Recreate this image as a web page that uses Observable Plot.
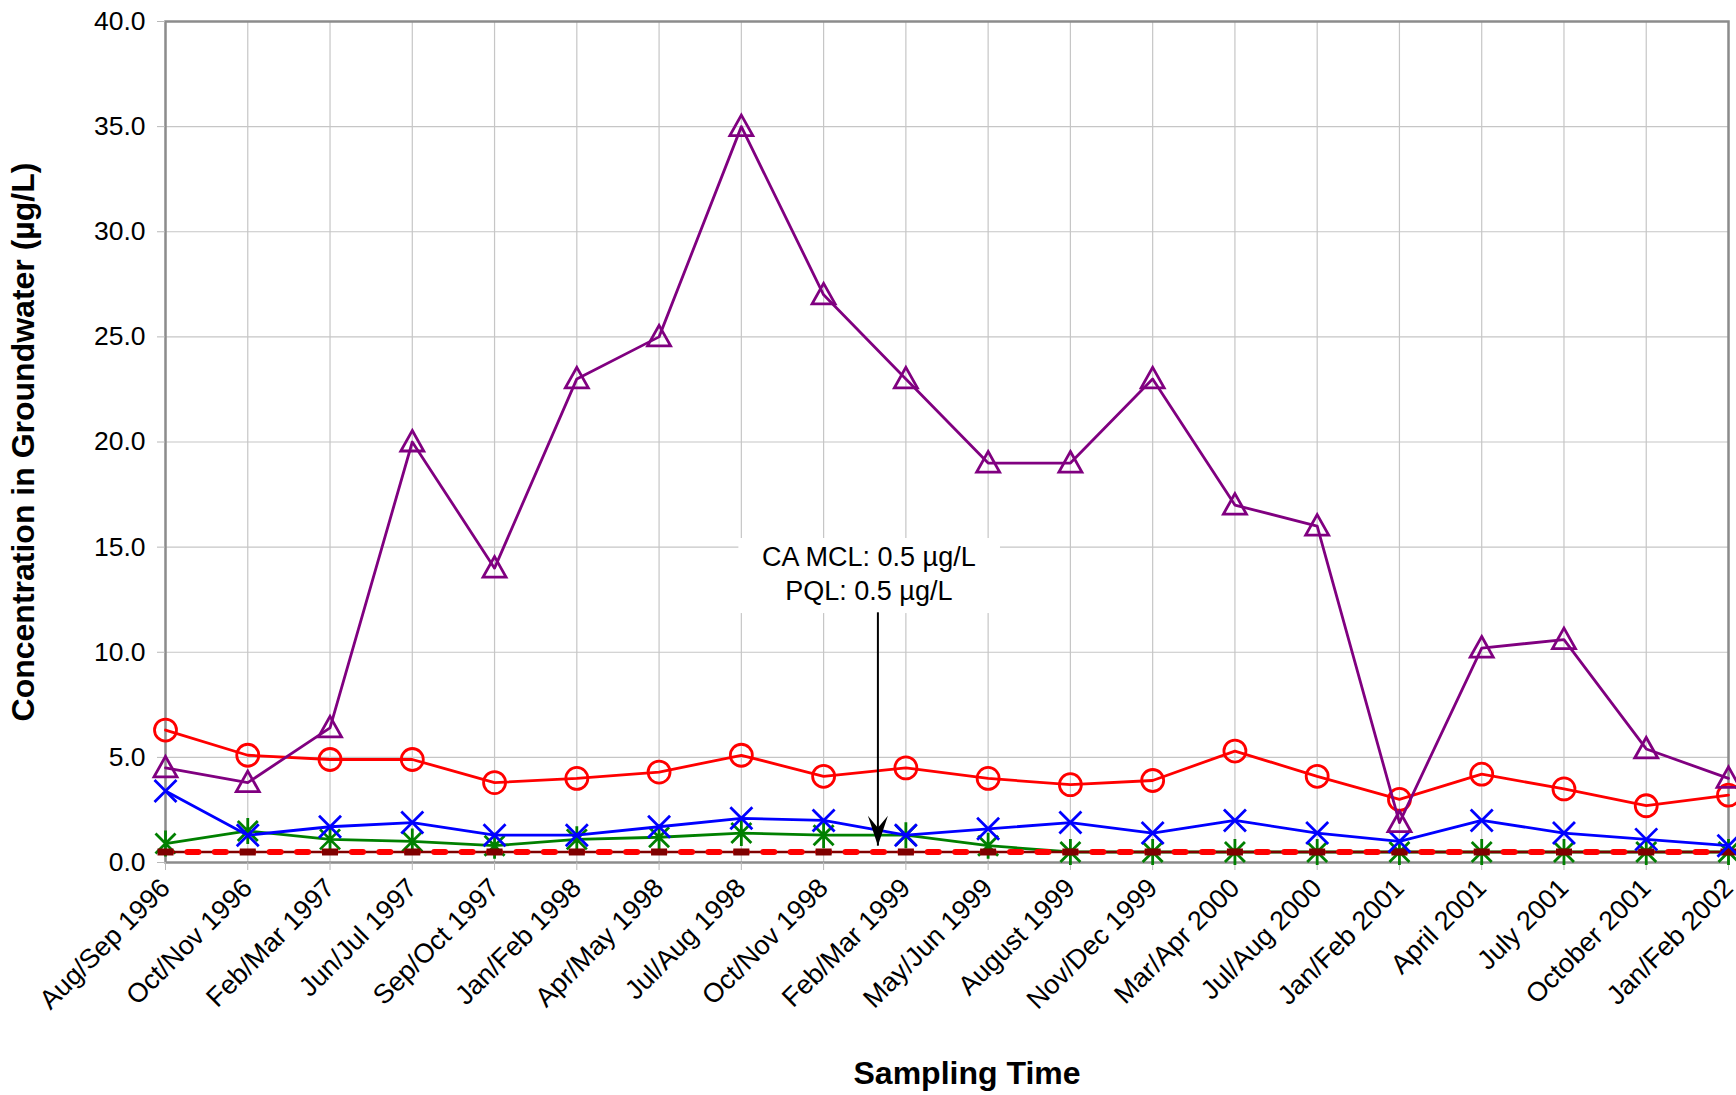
<!DOCTYPE html>
<html>
<head>
<meta charset="utf-8">
<script src="https://cdn.jsdelivr.net/npm/d3@7"></script>
<script src="https://cdn.jsdelivr.net/npm/@observablehq/plot@0.6"></script>
<style>
  html, body { margin: 0; padding: 0; background: #ffffff; }
</style>
</head>
<body>
<div id="chart"></div>
<script>
// ---- Data ----
const periods = [
  "Aug/Sep 1996", "Oct/Nov 1996", "Feb/Mar 1997", "Jun/Jul 1997", "Sep/Oct 1997",
  "Jan/Feb 1998", "Apr/May 1998", "Jul/Aug 1998", "Oct/Nov 1998", "Feb/Mar 1999",
  "May/Jun 1999", "August 1999", "Nov/Dec 1999", "Mar/Apr 2000", "Jul/Aug 2000",
  "Jan/Feb 2001", "April 2001", "July 2001", "October 2001", "Jan/Feb 2002"
];
const purpleSeries = [4.5, 3.8, 6.4, 20.0, 14.0, 23.0, 25.0, 35.0, 27.0, 23.0, 19.0, 19.0, 23.0, 17.0, 16.0, 1.9, 10.2, 10.6, 5.4, 4.0];
const redSeries    = [6.3, 5.1, 4.9, 4.9, 3.8, 4.0, 4.3, 5.1, 4.1, 4.5, 4.0, 3.7, 3.9, 5.3, 4.1, 3.0, 4.2, 3.5, 2.7, 3.2];
const blueSeries   = [3.4, 1.3, 1.7, 1.9, 1.3, 1.3, 1.7, 2.1, 2.0, 1.3, 1.6, 1.9, 1.4, 2.0, 1.4, 1.0, 2.0, 1.4, 1.1, 0.8];
const greenSeries  = [0.9, 1.5, 1.1, 1.0, 0.8, 1.1, 1.2, 1.4, 1.3, 1.3, 0.8, 0.5, 0.5, 0.5, 0.5, 0.5, 0.5, 0.5, 0.5, 0.5];
const pqlSeries    = [0.5, 0.5, 0.5, 0.5, 0.5, 0.5, 0.5, 0.5, 0.5, 0.5, 0.5, 0.5, 0.5, 0.5, 0.5, 0.5, 0.5, 0.5, 0.5, 0.5];
const mclSeries    = [0.5, 0.5, 0.5, 0.5, 0.5, 0.5, 0.5, 0.5, 0.5, 0.5, 0.5, 0.5, 0.5, 0.5, 0.5, 0.5, 0.5, 0.5, 0.5, 0.5];
const yTicks = [0, 5, 10, 15, 20, 25, 30, 35, 40];
const xTitle = "Sampling Time";
const yTitle = "Concentration in Groundwater (µg/L)";
const noteLines = ["CA MCL: 0.5 µg/L", "PQL: 0.5 µg/L"];
// annotation anchors, in data units (category index, µg/L)
const noteCenter = [{x: 8.55, y: 13.8}];
const noteBox = [{x1: 6.97, x2: 10.15, y1: 11.84, y2: 15.41}];
const noteArrow = [{x: 8.66, yFrom: 11.9, yTo: 0.8}];

// ---- Helpers ----
const rows = (vals) => vals.map((v, i) => ({i, v}));
const symTriangle = {draw(c) { c.moveTo(0, -11.5); c.lineTo(11.5, 9); c.lineTo(-11.5, 9); c.closePath(); }};
const symX = {draw(c) { c.moveTo(-11, -11); c.lineTo(11, 11); c.moveTo(11, -11); c.lineTo(-11, 11); }};
const symStar = {draw(c) { c.moveTo(-10, -10); c.lineTo(10, 10); c.moveTo(10, -10); c.lineTo(-10, 10); c.moveTo(0, -13); c.lineTo(0, 13); }};
const symDash = {draw(c) { c.rect(-8, -3.5, 16, 7); }};
const symHead = {draw(c) { c.moveTo(0, 0); c.lineTo(-10, -30); c.lineTo(0, -18); c.lineTo(10, -30); c.closePath(); }};

const W = 1736, H = 1095;
const mL = 165, mR = 8, mT = 21, mB = 233;
const step = (W - mL - mR) / (periods.length - 1);
const dashPeriod = step / 3;

const font = "'Liberation Sans', Arial, Helvetica, sans-serif";

const series = (vals, color, symbol, r = 10) => [
  Plot.line(rows(vals), {x: "i", y: "v", stroke: color, strokeWidth: 2.8}),
  Plot.dot(rows(vals), {x: "i", y: "v", stroke: color, fill: "none", strokeWidth: 2.8, symbol, r})
];

const chart = Plot.plot({
  width: W,
  height: H,
  marginLeft: mL,
  marginRight: mR,
  marginTop: mT,
  marginBottom: mB,
  style: {fontFamily: font, background: "#ffffff", color: "#000000", overflow: "visible"},
  x: {type: "linear", domain: [0, periods.length - 1], label: null},
  y: {type: "linear", domain: [0, 40], label: null},
  marks: [
    Plot.gridX(d3.range(periods.length), {stroke: "#c6c6c6", strokeOpacity: 1, strokeWidth: 1.2}),
    Plot.gridY(yTicks, {stroke: "#c6c6c6", strokeOpacity: 1, strokeWidth: 1.2}),
    Plot.rect(noteBox, {x1: "x1", x2: "x2", y1: "y1", y2: "y2", fill: "#ffffff"}),
    Plot.frame({stroke: "#8c8c8c", strokeWidth: 2.5}),
    Plot.axisY(yTicks, {
      tickFormat: d3.format(".1f"), tickSize: 8, tickPadding: 12, fontSize: 26.5,
      stroke: "#b8b8b8", fill: "#000000", label: null
    }),
    Plot.axisX(d3.range(periods.length), {
      tickFormat: (i) => periods[i], tickRotate: -45, tickSize: 8, tickPadding: 13, fontSize: 27,
      stroke: "#b8b8b8", fill: "#000000", label: null
    }),
    // series
    ...series(greenSeries, "#008000", symStar),
    Plot.line(rows(pqlSeries), {x: "i", y: "v", stroke: "#800000", strokeWidth: 2.5}),
    Plot.line(rows(mclSeries), {x: "i", y: "v", stroke: "#ff0000", strokeWidth: 6,
      strokeDasharray: `11,${dashPeriod - 11}`, strokeDashoffset: 5.5}),
    Plot.dot(rows(pqlSeries), {x: "i", y: "v", fill: "#800000", stroke: "none", symbol: symDash, r: 5}),
    ...series(blueSeries, "#0000ff", symX),
    ...series(redSeries, "#ff0000", "circle", 11),
    ...series(purpleSeries, "#800080", symTriangle),
    // annotation
    Plot.text(noteCenter, {
      x: "x", y: "y", text: () => noteLines.join("\n"), fontSize: 27, lineHeight: 1.24,
      fill: "#000000", textAnchor: "middle"
    }),
    Plot.link(noteArrow, {x1: "x", x2: "x", y1: "yFrom", y2: "yTo", stroke: "#000000", strokeWidth: 2}),
    Plot.dot(noteArrow, {x: "x", y: "yTo", symbol: symHead, fill: "#000000", stroke: "none", r: 5}),
    // titles
    Plot.text([yTitle], {text: (d) => d, frameAnchor: "left", textAnchor: "middle", dx: -142, rotate: -90,
      fontSize: 32, fontWeight: "bold", fill: "#000000"}),
    Plot.text([xTitle], {text: (d) => d, frameAnchor: "bottom", textAnchor: "middle", dy: 221, dx: 20,
      fontSize: 32, fontWeight: "bold", fill: "#000000"})
  ]
});

document.getElementById("chart").appendChild(chart);
</script>
</body>
</html>
